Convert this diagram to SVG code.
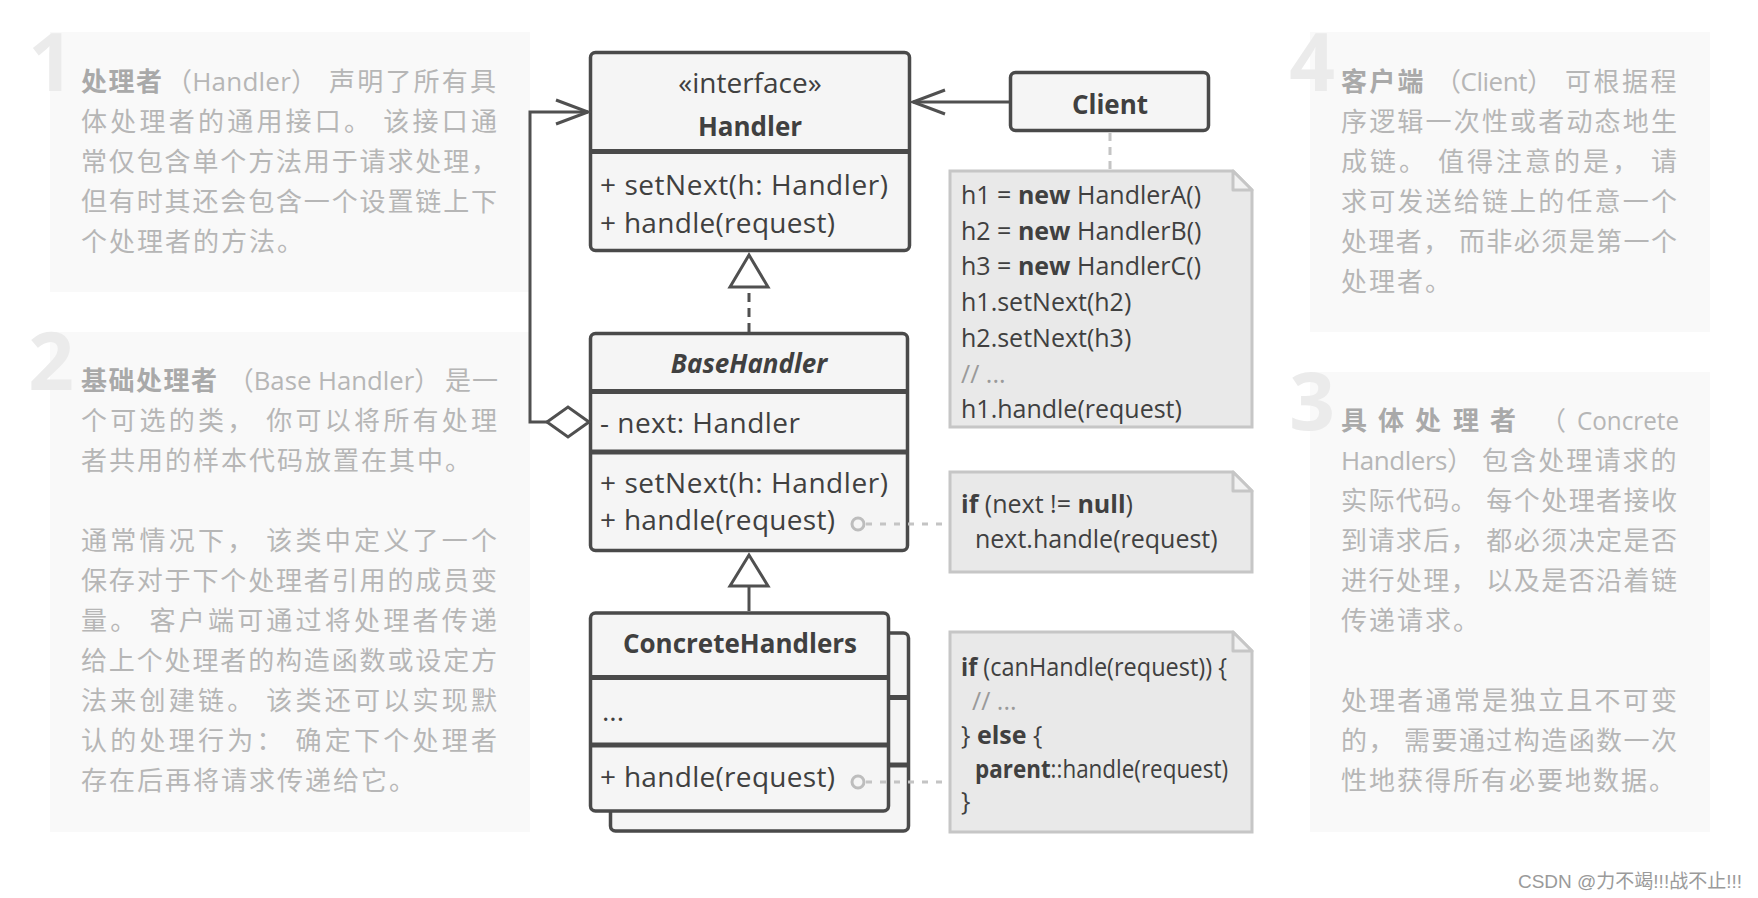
<svg xmlns="http://www.w3.org/2000/svg" width="1758" height="898" viewBox="0 0 1758 898">
<defs>
<style>
.panel{fill:#f9f9f9}
.num{font-family:"Open Sans","DejaVu Sans",sans-serif;font-weight:700;font-size:80px;fill:#ebebeb;text-anchor:middle}
.pt{font-family:"Open Sans","Noto Sans CJK SC",sans-serif;font-size:26px;fill:#b6b6b6;letter-spacing:2px}
.pb{font-weight:700;fill:#a9a9a9}
.box{fill:#f5f5f5;stroke:#4a4a4a;stroke-width:3.5}
.sep{stroke:#4a4a4a;stroke-width:5}
.uml{font-family:"Open Sans","Noto Sans",sans-serif;font-size:28px;fill:#404040}
.ttl{font-family:"Open Sans","Noto Sans",sans-serif;font-size:26px;font-weight:700;fill:#404040;text-anchor:middle}
.note{fill:#e9e9e9;stroke:#c6c6c6;stroke-width:3}
.fold{fill:#f2f2f2;stroke:#c6c6c6;stroke-width:3;stroke-linejoin:round}
.code{font-family:"Open Sans","Noto Sans",sans-serif;font-size:25px;fill:#404040}
.kw{font-weight:700}
.cm{fill:#9a9a9a}
.conn{stroke:#505050;stroke-width:3;fill:none}
.head{fill:#fff;stroke:#505050;stroke-width:3}
.lite{stroke:#c4c4c4;stroke-width:3;fill:none;stroke-dasharray:6 8}
.dot{fill:#f5f5f5;stroke:#bdbdbd;stroke-width:3}
.wm{font-family:"Liberation Sans","Noto Sans CJK SC",sans-serif;font-size:19px;fill:#9a9a9a;text-anchor:end}
</style>
</defs>
<rect width="1758" height="898" fill="#ffffff"/>

<g id="panel1">
<rect class="panel" x="50" y="32" width="480" height="260"/>
<text class="num" x="51" y="91">1</text>
<text class="pt pb" x="81" y="91" style="letter-spacing:1.5px">处理者</text>
<text class="pt" x="166" y="91" style="letter-spacing:0" textLength="151" lengthAdjust="spacing">（Handler）</text>
<text class="pt" x="329" y="91" style="letter-spacing:2.2px">声明了所有具</text>
<text class="pt" x="81" y="131" textLength="418" lengthAdjust="spacing">体处理者的通用接口。 该接口通</text>
<text class="pt" x="81" y="171" textLength="418" lengthAdjust="spacing">常仅包含单个方法用于请求处理，</text>
<text class="pt" x="81" y="211" textLength="418" lengthAdjust="spacing">但有时其还会包含一个设置链上下</text>
<text class="pt" x="81" y="251">个处理者的方法。</text>
</g>

<g id="panel2">
<rect class="panel" x="50" y="332" width="480" height="500"/>
<text class="num" x="51" y="390">2</text>
<text class="pt pb" x="81" y="390" style="letter-spacing:1.5px">基础处理者</text>
<text class="pt" x="228" y="390" style="letter-spacing:0" textLength="212" lengthAdjust="spacingAndGlyphs">（Base Handler）</text>
<text class="pt" x="445" y="390" style="letter-spacing:1px">是一</text>
<text class="pt" x="81" y="430" textLength="418" lengthAdjust="spacing">个可选的类， 你可以将所有处理</text>
<text class="pt" x="81" y="470">者共用的样本代码放置在其中。</text>
<text class="pt" x="81" y="550" textLength="418" lengthAdjust="spacing">通常情况下， 该类中定义了一个</text>
<text class="pt" x="81" y="590" textLength="418" lengthAdjust="spacing">保存对于下个处理者引用的成员变</text>
<text class="pt" x="81" y="630" textLength="418" lengthAdjust="spacing">量。 客户端可通过将处理者传递</text>
<text class="pt" x="81" y="670" textLength="418" lengthAdjust="spacing">给上个处理者的构造函数或设定方</text>
<text class="pt" x="81" y="710" textLength="418" lengthAdjust="spacing">法来创建链。 该类还可以实现默</text>
<text class="pt" x="81" y="750" textLength="418" lengthAdjust="spacing">认的处理行为： 确定下个处理者</text>
<text class="pt" x="81" y="790">存在后再将请求传递给它。</text>
</g>

<g id="panel4">
<rect class="panel" x="1310" y="32" width="400" height="300"/>
<text class="num" x="1312" y="91">4</text>
<text class="pt pb" x="1341" y="91" style="letter-spacing:2.3px">客户端</text>
<text class="pt" x="1435" y="91" style="letter-spacing:0" textLength="118" lengthAdjust="spacing">（Client）</text>
<text class="pt" x="1565" y="91" style="letter-spacing:2.5px">可根据程</text>
<text class="pt" x="1341" y="131" textLength="338" lengthAdjust="spacing">序逻辑一次性或者动态地生</text>
<text class="pt" x="1341" y="171" textLength="338" lengthAdjust="spacing">成链。 值得注意的是， 请</text>
<text class="pt" x="1341" y="211" textLength="338" lengthAdjust="spacing">求可发送给链上的任意一个</text>
<text class="pt" x="1341" y="251" textLength="338" lengthAdjust="spacing">处理者， 而非必须是第一个</text>
<text class="pt" x="1341" y="291">处理者。</text>
</g>

<g id="panel3">
<rect class="panel" x="1310" y="372" width="400" height="460"/>
<text class="num" x="1312" y="430">3</text>
<text class="pt pb" y="430"><tspan x="1341">具</tspan><tspan x="1378">体</tspan><tspan x="1415">处</tspan><tspan x="1453">理</tspan><tspan x="1490">者</tspan></text>
<text class="pt" x="1540" y="430">（</text>
<text class="pt" x="1577" y="430" style="letter-spacing:0" textLength="102" lengthAdjust="spacingAndGlyphs">Concrete</text>
<text class="pt" x="1341" y="470" style="letter-spacing:0" textLength="132" lengthAdjust="spacing">Handlers）</text>
<text class="pt" x="1482" y="470" style="letter-spacing:2.1px">包含处理请求的</text>
<text class="pt" x="1341" y="510" textLength="338" lengthAdjust="spacing">实际代码。 每个处理者接收</text>
<text class="pt" x="1341" y="550" textLength="338" lengthAdjust="spacing">到请求后， 都必须决定是否</text>
<text class="pt" x="1341" y="590" textLength="338" lengthAdjust="spacing">进行处理， 以及是否沿着链</text>
<text class="pt" x="1341" y="630">传递请求。</text>
<text class="pt" x="1341" y="710" textLength="338" lengthAdjust="spacing">处理者通常是独立且不可变</text>
<text class="pt" x="1341" y="750" textLength="338" lengthAdjust="spacing">的， 需要通过构造函数一次</text>
<text class="pt" x="1341" y="790">性地获得所有必要地数据。</text>
</g>

<g id="handler">
<rect class="box" x="590.5" y="52.5" width="319" height="198" rx="5"/>
<line class="sep" x1="590" y1="151.5" x2="910" y2="151.5"/>
<text class="uml" x="750" y="93" text-anchor="middle">«interface»</text>
<text class="ttl" x="750" y="136">Handler</text>
<text class="uml" x="600" y="195" textLength="288" lengthAdjust="spacing">+ setNext(h: Handler)</text>
<text class="uml" x="600" y="233" textLength="235" lengthAdjust="spacing">+ handle(request)</text>
</g>

<g id="client">
<rect class="box" x="1010.5" y="72.5" width="198" height="58" rx="5"/>
<text class="ttl" x="1110" y="114">Client</text>
</g>

<g id="note-client">
<path class="note" d="M950,171 H1233 L1252,190 V427 H950 Z"/>
<path class="fold" d="M1233,171 V190 H1252 Z"/>
<text class="code" x="961" y="204">h1 = <tspan class="kw">new</tspan> HandlerA()</text>
<text class="code" x="961" y="240">h2 = <tspan class="kw">new</tspan> HandlerB()</text>
<text class="code" x="961" y="275">h3 = <tspan class="kw">new</tspan> HandlerC()</text>
<text class="code" x="961" y="311">h1.setNext(h2)</text>
<text class="code" x="961" y="347">h2.setNext(h3)</text>
<text class="code cm" x="961" y="383">// ...</text>
<text class="code" x="961" y="418">h1.handle(request)</text>
</g>

<g id="base-handler">
<rect class="box" x="590.5" y="333.5" width="317" height="217" rx="5"/>
<line class="sep" x1="590" y1="391.5" x2="908" y2="391.5"/>
<line class="sep" x1="590" y1="452" x2="908" y2="452"/>
<text class="ttl" x="749" y="373" font-style="italic">BaseHandler</text>
<text class="uml" x="600" y="433" textLength="200" lengthAdjust="spacing">- next: Handler</text>
<text class="uml" x="600" y="493" textLength="288" lengthAdjust="spacing">+ setNext(h: Handler)</text>
<text class="uml" x="600" y="530" textLength="235" lengthAdjust="spacing">+ handle(request)</text>
</g>

<g id="note-base">
<path class="note" d="M950,472 H1233 L1252,491 V572 H950 Z"/>
<path class="fold" d="M1233,472 V491 H1252 Z"/>
<text class="code" x="961" y="513"><tspan class="kw">if</tspan> (next != <tspan class="kw">null</tspan>)</text>
<text class="code" x="975" y="548">next.handle(request)</text>
</g>

<g id="concrete-handlers">
<rect class="box" x="610.5" y="633" width="298" height="198" rx="5"/>
<line class="sep" x1="888" y1="697.5" x2="909" y2="697.5"/>
<line class="sep" x1="888" y1="765" x2="909" y2="765"/>
<rect class="box" x="590.5" y="613" width="298" height="198" rx="5"/>
<line class="sep" x1="590" y1="677.5" x2="889" y2="677.5"/>
<line class="sep" x1="590" y1="745" x2="889" y2="745"/>
<text class="ttl" x="740" y="653">ConcreteHandlers</text>
<text class="uml" x="602" y="721">...</text>
<text class="uml" x="600" y="787" textLength="235" lengthAdjust="spacing">+ handle(request)</text>
</g>

<g id="note-concrete">
<path class="note" d="M950,632 H1233 L1252,651 V832 H950 Z"/>
<path class="fold" d="M1233,632 V651 H1252 Z"/>
<text class="code" x="961" y="676" textLength="266" lengthAdjust="spacingAndGlyphs"><tspan class="kw">if</tspan> (canHandle(request)) {</text>
<text class="code cm" x="972" y="710">// ...</text>
<text class="code" x="961" y="744">} <tspan class="kw">else</tspan> {</text>
<text class="code" x="975" y="778" textLength="253" lengthAdjust="spacingAndGlyphs"><tspan class="kw">parent</tspan>::handle(request)</text>
<text class="code" x="961" y="810">}</text>
</g>

<g id="connectors">
<polyline class="conn" points="547,422 530,422 530,112 588,112"/>
<polyline class="conn" points="556,100 588,112 556,124"/>
<polygon class="head" points="589,422 568,407 547,422 568,437"/>
<line class="conn" x1="1009" y1="102" x2="913" y2="102"/>
<polyline class="conn" points="945,90 913,102 945,114"/>
<line class="conn" x1="749" y1="332" x2="749" y2="287" style="stroke-dasharray:9 6"/>
<polygon class="head" points="749,255 730,287 768,287"/>
<line class="conn" x1="749" y1="611" x2="749" y2="586"/>
<polygon class="head" points="749,555 730,586 768,586"/>
<line class="lite" x1="1110" y1="133" x2="1110" y2="169" style="stroke-dasharray:8 6"/>
<line class="lite" x1="866" y1="524" x2="948" y2="524"/>
<circle class="dot" cx="858" cy="524" r="6"/>
<line class="lite" x1="866" y1="782" x2="948" y2="782"/>
<circle class="dot" cx="858" cy="782" r="6"/>
</g>

<text class="wm" x="1742" y="888">CSDN @力不竭!!!战不止!!!</text>
</svg>
